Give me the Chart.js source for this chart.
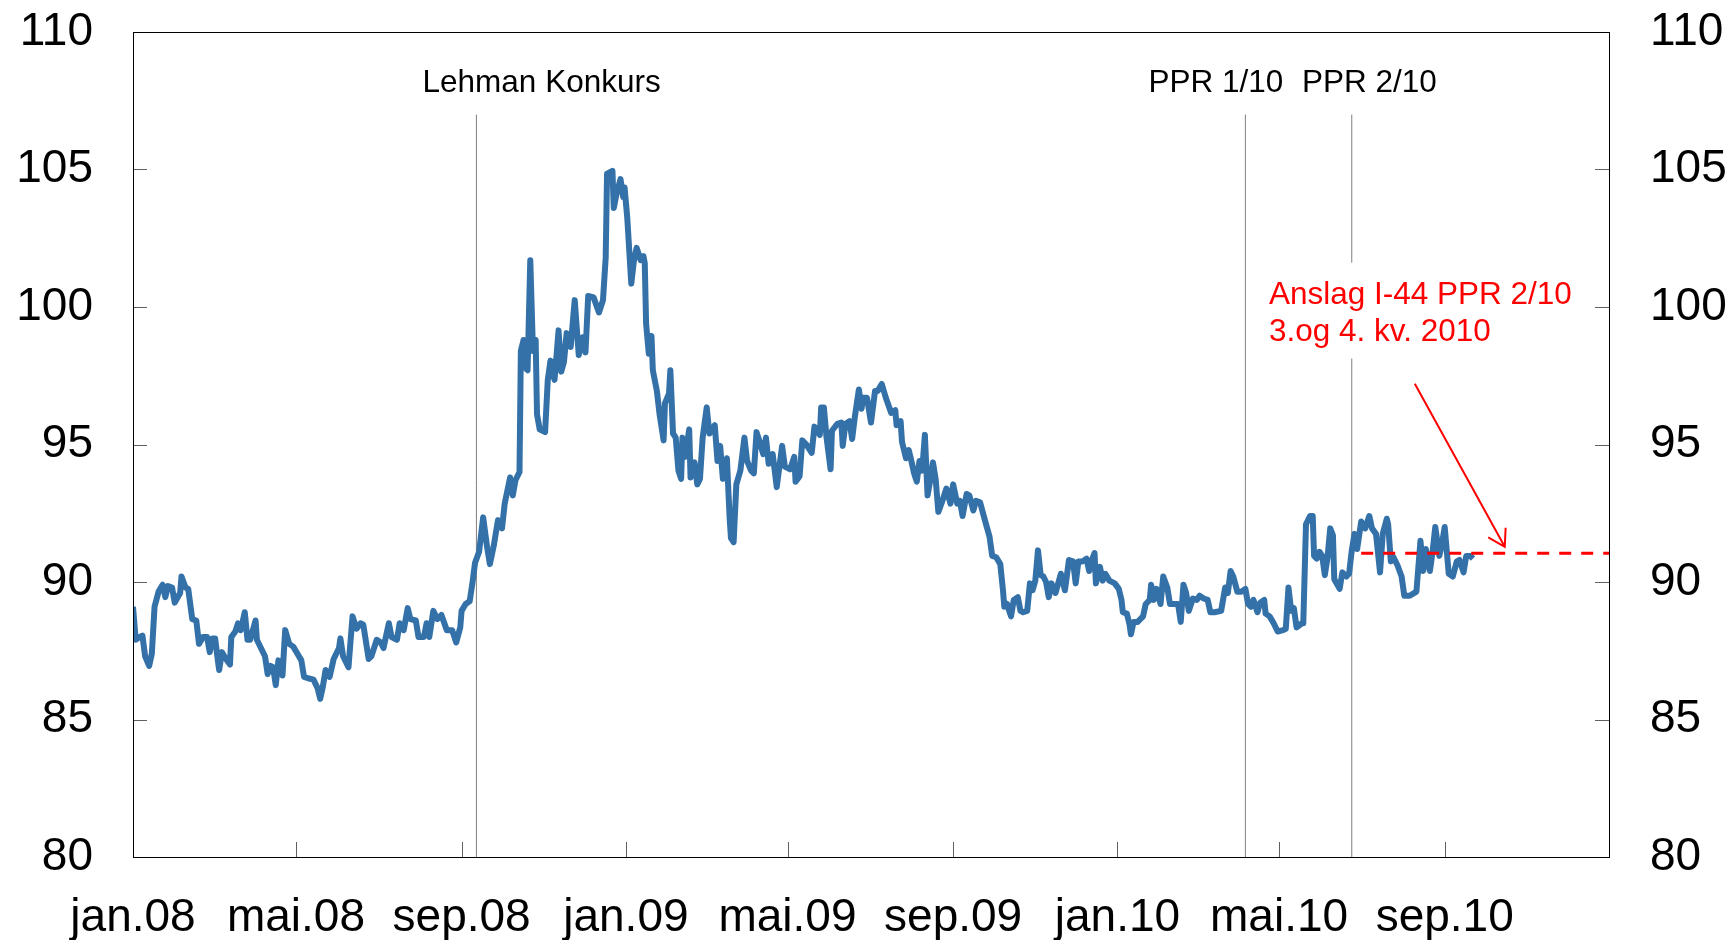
<!DOCTYPE html>
<html>
<head>
<meta charset="utf-8">
<script src="https://cdn.jsdelivr.net/npm/chart.js@4/dist/chart.umd.min.js"></script>
<style>
  body { margin: 0; background: #fff; }
  canvas { display: block; }
</style>
</head>
<body>
<canvas id="graf" width="1735" height="940"></canvas>
<script>
// dager etter 1. jan 2008
let dager = [0,2,5,7,9,12,14,16,19,22,24,26,29,31,35,36,39,41,44,47,49,52,55,57,59,61,63,64,66,69,72,73,76,78,80,83,85,87,91,92,96,98,100,102,104,106,108,111,113,116,119,122,125,127,130,134,137,139,141,143,146,149,153,154,156,160,163,166,169,171,175,177,181,184,186,190,192,196,198,201,204,206,210,212,216,218,220,223,226,229,233,237,240,243,244,247,250,252,254,257,260,263,265,268,271,274,276,280,282,284,287,288,290,291,293,295,297,299,300,302,306,308,310,313,316,318,320,322,325,328,331,334,336,338,342,346,349,351,352,356,357,359,362,364,365,367,370,372,374,377,379,380,381,383,385,386,389,391,394,395,398,399,401,403,405,407,408,410,413,414,417,419,421,423,426,428,432,434,436,438,441,443,444,446,448,451,454,456,459,461,463,465,468,470,472,475,478,482,484,488,491,492,495,497,500,504,506,510,511,513,515,518,519,523,526,527,529,532,534,536,539,541,542,545,548,551,553,556,559,563,566,567,570,571,574,576,578,580,582,584,586,588,590,592,594,596,598,601,604,607,609,612,614,616,619,621,624,626,629,632,636,638,641,644,646,647,649,652,654,657,659,661,664,666,668,670,672,674,676,678,680,682,685,687,689,692,695,698,700,702,705,708,710,712,714,715,718,720,722,725,729,732,734,735,738,740,741,743,746,750,752,755,756,758,760,763,765,768,770,774,776,778,780,782,784,787,790,792,795,798,800,803,808,811,813,815,817,820,823,826,828,830,832,835,837,840,841,844,847,850,854,856,858,860,862,864,868,869,871,874,876,877,879,881,883,885,887,889,891,892,896,898,901,903,905,907,909,912,915,918,920,923,926,928,931,932,934,936,939,942,944,948,953,956,958,960,963,965,967,970,972,974,977,980,983,985,988,990,993,995];
let verdi = [89.1,87.9,88.0,88.05,87.3,86.95,87.4,89.1,89.65,89.9,89.45,89.85,89.8,89.25,89.6,90.2,89.8,89.75,88.65,88.6,87.75,88.0,88.0,87.45,87.95,87.95,87.15,86.8,87.45,87.2,87.0,88.0,88.2,88.5,88.25,88.9,87.9,87.9,88.6,87.9,87.5,87.3,86.65,86.95,86.9,86.25,87.15,86.6,88.25,87.75,87.65,87.4,87.15,86.55,86.5,86.45,86.15,85.75,86.2,86.8,86.55,87.2,87.6,87.95,87.3,86.9,88.75,88.3,88.5,88.45,87.2,87.3,87.9,87.8,87.6,88.5,88.0,87.9,88.5,88.25,89.05,88.65,88.6,88.0,88.0,88.5,88.0,88.95,88.65,88.8,88.25,88.25,87.8,88.35,88.95,89.2,89.3,89.95,90.7,91.1,92.35,91.25,90.65,91.35,92.25,91.95,92.85,93.8,93.15,93.7,94.0,98.4,98.8,97.8,97.7,101.7,98.4,98.8,96.1,95.55,95.45,97.35,98.05,97.35,99.15,97.65,98.0,99.05,98.55,100.25,98.25,98.9,98.35,100.4,100.35,99.8,100.25,101.8,104.85,104.95,103.6,104.1,104.65,104.0,104.35,103.25,100.85,101.7,102.15,101.7,101.85,101.6,99.4,98.3,98.95,97.7,96.95,96.1,95.15,96.5,96.85,97.7,95.4,95.25,94.05,93.75,95.25,94.55,95.55,93.8,94.35,93.55,93.75,95.25,96.35,95.4,95.7,94.4,94.95,93.75,94.5,92.35,91.6,91.45,93.55,94.05,95.25,94.4,94.05,93.95,95.45,95.15,94.65,95.25,94.3,94.65,93.45,94.95,94.2,94.1,94.55,93.65,93.85,95.15,95.0,94.7,95.65,95.35,96.35,96.35,95.25,94.1,95.5,95.75,95.8,94.95,95.75,95.85,95.2,96.0,97.0,96.3,96.7,96.7,95.8,96.95,96.95,97.2,96.7,96.15,96.25,95.7,95.85,95.1,94.5,94.8,94.4,93.95,93.65,94.4,94.05,95.35,93.15,93.7,94.35,93.75,92.55,92.95,93.4,92.85,93.55,92.85,92.95,92.4,93.2,93.15,92.6,92.95,92.9,92.35,91.65,90.95,90.9,90.65,89.7,89.1,89.2,88.75,89.35,89.45,88.95,88.9,88.95,89.95,89.7,90.05,91.15,90.25,90.2,90.0,89.45,89.95,89.6,89.95,90.3,89.7,90.8,90.75,89.95,90.75,90.75,90.85,90.4,90.8,91.05,89.95,90.55,90.05,90.3,90.05,89.95,89.75,89.35,88.9,88.85,88.45,88.1,88.55,88.55,88.75,89.2,89.35,89.9,89.35,89.75,89.2,90.2,89.8,89.2,89.2,89.2,88.55,89.9,89.6,88.95,89.4,89.35,89.5,89.4,89.35,88.9,88.9,88.95,89.8,89.6,90.4,90.2,89.65,89.65,89.75,89.2,89.1,89.35,88.9,89.25,89.35,88.85,88.75,88.5,88.2,88.25,88.3,89.8,88.95,89.05,88.35,88.5,88.5,92.1,92.4,92.4,90.95,90.85,91.1,90.95,90.25,90.9,91.95,91.7,90.1,89.75,90.35,90.2,90.3,91.15,91.75,91.2,92.2,91.95,92.4,91.95,91.75,90.35,91.75,92.3,92.1,90.75,90.9,90.6,90.2,89.5,89.5,89.65,91.5,90.4,91.2,90.4,91.1,92.0,90.95,91.4,92.0,90.3,90.2,90.75,90.8,90.35,90.95,90.95,90.85];

// anslag I-44 PPR 2/10 for 3. og 4. kv. 2010
let anslagDager = [912, 1096];
let anslagVerdi = [91.05, 91.05];

// hendelser (vertikale linjer)
let hendelseDager = [255, 826, 905];

// akser
let tickDager = [0, 121, 244, 366, 486, 609, 731, 851, 974, 1096];
let tickEtiketter = ['jan.08', 'mai.08', 'sep.08', 'jan.09', 'mai.09', 'sep.09', 'jan.10', 'mai.10', 'sep.10', ''];
let yTicks = [80, 85, 90, 95, 100, 105, 110];

const FONT = "'Liberation Sans', Arial, sans-serif";

let hovedserie = dager.map((d, i) => ({ x: d, y: verdi[i] }));
let anslag = anslagDager.map((d, i) => ({ x: d, y: anslagVerdi[i] }));

let datasets = [
  {
    data: hovedserie,
    borderColor: '#3371a8',
    borderWidth: 6,
    pointRadius: 0,
    tension: 0,
    borderJoinStyle: 'round',
    order: 1
  },
  {
    data: anslag,
    borderColor: '#ff0000',
    borderWidth: 3,
    borderDash: [12, 10],
    pointRadius: 0,
    order: 0
  }
];
// vertikale linjer
hendelseDager.forEach(d => {
  datasets.push({
    data: [{ x: d, y: 80 }, { x: d, y: 107 }],
    borderColor: '#808080',
    borderWidth: 1,
    pointRadius: 0,
    order: 5
  });
});

// ramme, ticks innover, tekster og pil
const pynt = {
  id: 'pynt',
  afterDatasetsDraw(chart) {
    let ctx = chart.ctx;
    let a = chart.chartArea;
    let xs = chart.scales.x;
    let ys = chart.scales.y;
    ctx.save();

    // ticks
    ctx.strokeStyle = '#606060';
    ctx.lineWidth = 1;
    yTicks.forEach(v => {
      let py = Math.round(ys.getPixelForValue(v)) + 0.5;
      ctx.beginPath();
      ctx.moveTo(a.left, py); ctx.lineTo(a.left + 14, py);
      ctx.moveTo(a.right, py); ctx.lineTo(a.right - 14, py);
      ctx.stroke();
    });
    tickDager.forEach(d => {
      let px = Math.round(xs.getPixelForValue(d)) + 0.5;
      ctx.beginPath();
      ctx.moveTo(px, a.bottom); ctx.lineTo(px, a.bottom - 15);
      ctx.stroke();
    });

    // ramme
    ctx.strokeStyle = '#000';
    ctx.lineWidth = 1;
    ctx.strokeRect(Math.round(a.left) + 0.5, Math.round(a.top) + 0.5,
      Math.round(a.right - a.left), Math.round(a.bottom - a.top));

    // svarte tekster
    ctx.fillStyle = '#000';
    ctx.font = '31.5px ' + FONT;
    ctx.textBaseline = 'alphabetic';
    ctx.textAlign = 'left';
    ctx.fillText('Lehman Konkurs', xs.getPixelForValue(215), ys.getPixelForValue(107.82));
    ctx.fillText('PPR 1/10', xs.getPixelForValue(754), ys.getPixelForValue(107.82));
    ctx.fillText('PPR 2/10', xs.getPixelForValue(868), ys.getPixelForValue(107.82));

    // rød tekst med hvit bakgrunn
    let tx = xs.getPixelForValue(843.5);
    let l1 = ys.getPixelForValue(100.12);
    let l2 = ys.getPixelForValue(98.78);
    let linje1 = 'Anslag I-44 PPR 2/10';
    let linje2 = '3.og 4. kv. 2010';
    let b = ctx.measureText(linje1).width;
    ctx.fillStyle = '#fff';
    ctx.fillRect(tx - 6, l1 - 41, b + 14, (l2 + 18) - (l1 - 41));
    ctx.fillStyle = '#ff0000';
    ctx.fillText(linje1, tx, l1);
    ctx.fillText(linje2, tx, l2);

    // pil
    let x0 = xs.getPixelForValue(951.8), y0 = ys.getPixelForValue(97.21);
    let x1 = xs.getPixelForValue(1018.6), y1 = ys.getPixelForValue(91.28);
    let vinkel = Math.atan2(y1 - y0, x1 - x0);
    ctx.strokeStyle = '#ff0000';
    ctx.lineWidth = 2;
    ctx.beginPath();
    ctx.moveTo(x0, y0); ctx.lineTo(x1, y1);
    ctx.moveTo(x1 - 19 * Math.cos(vinkel - 0.55), y1 - 19 * Math.sin(vinkel - 0.55));
    ctx.lineTo(x1, y1);
    ctx.lineTo(x1 - 19 * Math.cos(vinkel + 0.55), y1 - 19 * Math.sin(vinkel + 0.55));
    ctx.stroke();

    ctx.restore();
  }
};

// fjerner ekstra luft rundt aksene
function utenPadding(s) {
  s.paddingTop = 0;
  s.paddingBottom = 0;
  s.paddingLeft = 0;
  s.paddingRight = 0;
}

let yAkse = {
  min: 80,
  max: 110,
  grid: { display: false, drawTicks: false },
  border: { display: false },
  ticks: {
    stepSize: 5,
    color: '#000',
    font: { family: FONT, size: 46 },
    padding: 40
  }
};

let ctx = document.getElementById('graf').getContext('2d');
let graf = new Chart(ctx, {
  type: 'line',
  data: { datasets: datasets },
  options: {
    responsive: false,
    animation: false,
    devicePixelRatio: 1,
    layout: { padding: { top: 32, left: 0, right: 0, bottom: 0 } },
    plugins: { legend: { display: false }, tooltip: { enabled: false } },
    scales: {
      x: {
        type: 'linear',
        min: 0,
        max: 1096,
        grid: { display: false, drawTicks: false },
        border: { display: false },
        afterBuildTicks: (s) => { s.ticks = tickDager.map(v => ({ value: v })); },
        afterFit: (s) => { s.height = 83; utenPadding(s); },
        ticks: {
          autoSkip: false,
          maxRotation: 0,
          minRotation: 0,
          color: '#000',
          padding: 34,
          font: { family: FONT, size: 46 },
          callback: (v, i) => tickEtiketter[i]
        }
      },
      y: Object.assign({}, yAkse, {
        position: 'left',
        afterFit: (s) => { s.width = 133; utenPadding(s); }
      }),
      y2: Object.assign({}, yAkse, {
        position: 'right',
        ticks: Object.assign({}, yAkse.ticks, { padding: 41 }),
        afterFit: (s) => { s.width = 126; utenPadding(s); }
      })
    }
  },
  plugins: [pynt]
});
</script>
</body>
</html>
